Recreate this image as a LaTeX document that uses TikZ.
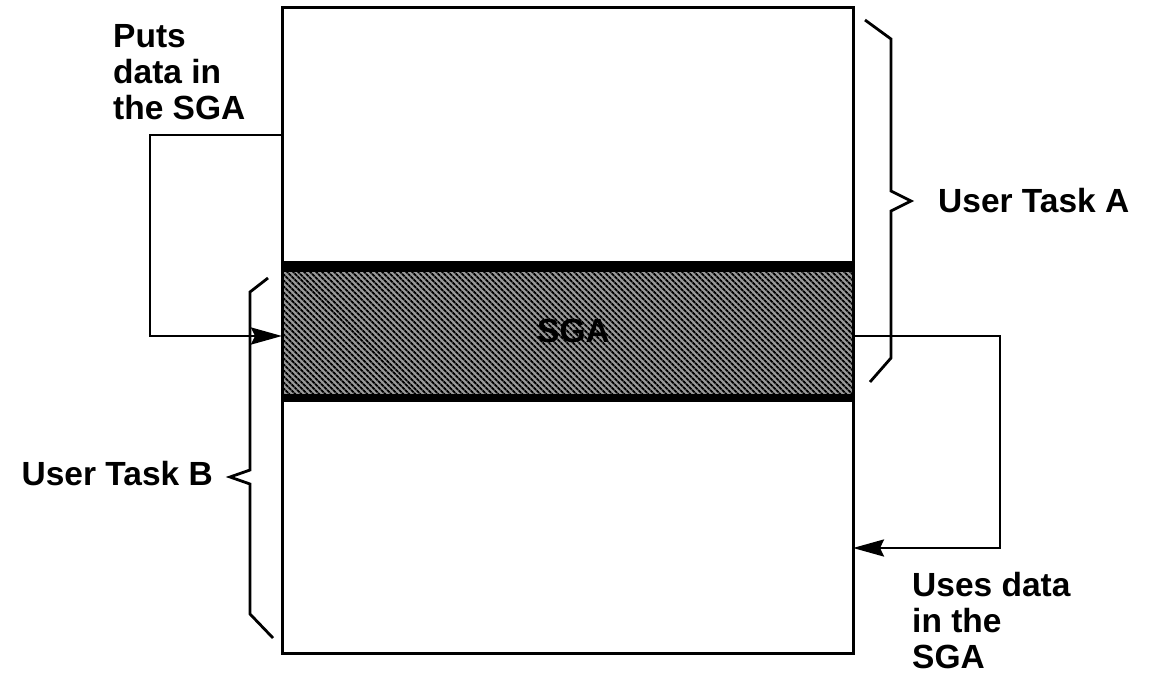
\documentclass[tikz,border=0pt]{standalone}
\usepackage{fontspec}
\setmainfont{Liberation Sans}
\usetikzlibrary{arrows.meta,positioning,patterns.meta}
\tikzset{
  font=\bfseries\fontsize{33.5}{36}\selectfont,
  >={Stealth[length=31pt,width=17pt,inset=4pt]},
  region/.style={
    draw=black,
    line width=3pt,
    anchor=north west,
    minimum width=571pt,
    inner sep=0pt,
    outer sep=0pt
  },
  shared/.style={
    region,
    preaction={fill=black!40},
    pattern={Lines[angle=-45,distance=4pt,line width=2pt]},
    pattern color=black
  },
  band/.style={draw=black,line width=#1,line cap=butt},
  arrow/.style={->,draw=black,line width=2.8pt},
  brace/.style={draw=black,line width=2.8pt,line join=miter},
  note/.style={align=left,inner sep=0pt,anchor=north west},
  tasklabel/.style={inner sep=0pt}
}

\begin{document}
\begin{tikzpicture}[x=1pt,y=-1pt]

  \useasboundingbox (0,0) rectangle (1151,677);

  \node[region,minimum height=254pt] at (282,8) (taskA) {};
  \node[region,minimum height=253pt] at (282,400) (taskB) {};
  \node[shared,minimum height=138pt] at (282,262) (sga) {\hspace*{12pt}\raisebox{-4pt}{SGA}};

  % heavy edges of the shared area
  \draw[band=10pt] ([yshift=-5pt]sga.north west) -- ([yshift=-5pt]sga.north east);
  \draw[band=6pt] ([yshift=3pt]sga.south west) -- ([yshift=3pt]sga.south east);

  \draw[brace] (865,20) -- (891,39) -- (891,191) -- (911,201) coordinate (tipA)
    -- (891,211) -- (891,358) -- (870,382);
  \draw[brace] (268,278) -- (250,292) -- (250,470) -- (230,477) coordinate (tipB)
    -- (250,484) -- (250,614) -- (273,638);

  \node[note] at (113,24) (puts) {Puts\\data in\\the SGA};
  \node[note] at (912,572) (uses) {Uses data\\in the\\SGA};
  \node[tasklabel,right=27pt of tipA] (labelA) {User Task A};
  \node[tasklabel,left=17pt of tipB,yshift=3pt] (labelB) {User Task B};

  \draw[arrow] (taskA.west) -- ++(-132,0) |- ([yshift=-5pt]sga.west);
  \draw[arrow] ([yshift=-5pt]sga.east) -- ++(147,0) |- ([yshift=-21.5pt]taskB.east);

\end{tikzpicture}
\end{document}
